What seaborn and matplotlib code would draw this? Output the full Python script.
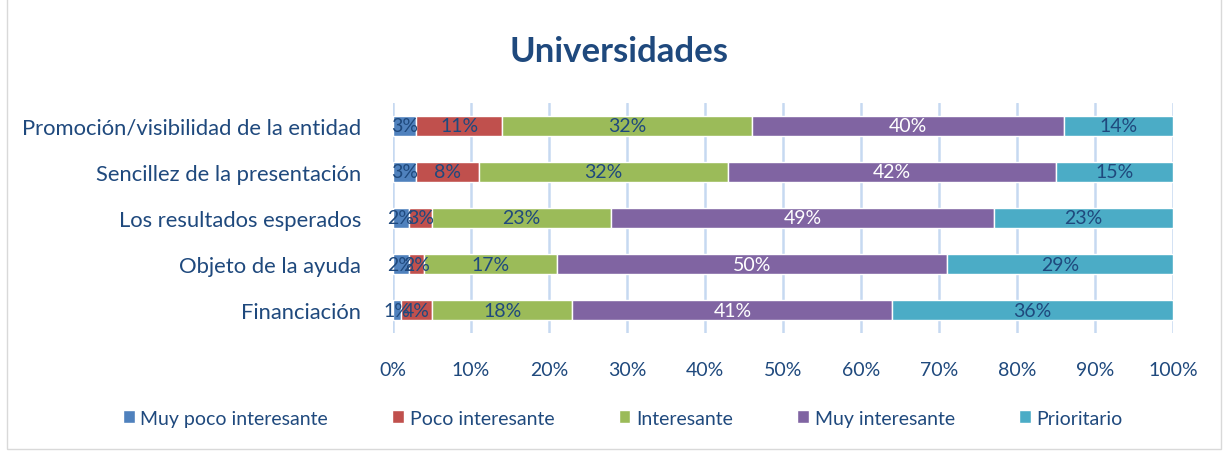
import numpy as np
import pandas as pd
import seaborn as sns
import matplotlib.pyplot as plt
from matplotlib.patches import Rectangle

categories = ["Promoción/visibilidad de la entidad", "Sencillez de la presentación",
              "Los resultados esperados", "Objeto de la ayuda", "Financiación"]
levels = ["Muy poco interesante", "Poco interesante", "Interesante",
          "Muy interesante", "Prioritario"]
muy_poco = [3, 3, 2, 2, 1]
poco = [11, 8, 3, 2, 4]
interesante = [32, 32, 23, 17, 18]
muy_interesante = [40, 42, 49, 50, 41]
prioritario = [14, 15, 23, 29, 36]

colors = ["#4F81BD", "#C0504D", "#9BBB59", "#8064A2", "#4BACC6"]
label_colors = ["#1F497D", "#1F497D", "#1F497D", "white", "#1F497D"]
text_color = "#1F497D"

sns.set_theme(style="white")
plt.rcParams["font.family"] = ["Lato", "DejaVu Sans"]

data = pd.DataFrame({"categoria": categories, levels[0]: muy_poco, levels[1]: poco,
                     levels[2]: interesante, levels[3]: muy_interesante, levels[4]: prioritario})

fig = plt.figure(figsize=(12.26, 4.52), dpi=100)
ax = fig.add_axes([0.3206, 0.261, 0.6362, 0.509])

# stacked bars: each level starts where the previous ones end
left = np.zeros(len(categories))
for lvl, col, lcol in zip(levels, colors, label_colors):
    sns.barplot(data=data, x=lvl, y="categoria", color=col, left=left,
                width=0.43, ax=ax, label=lvl, saturation=1)
    cont = ax.containers[-1]
    ax.bar_label(cont, labels=[f"{v:.0f}%" for v in data[lvl]], label_type="center",
                 color=lcol, fontsize=14)
    left = left + data[lvl].values

if ax.get_legend() is not None:
    ax.get_legend().remove()

ax.set_xlim(0, 100)
ax.set_ylim(4.5, -0.5)
ax.set_xticks(range(0, 101, 10))
ax.set_xticklabels([f"{t}%" for t in range(0, 101, 10)])
ax.set_xlabel("")
ax.set_ylabel("")
ax.tick_params(axis="both", labelsize=14, colors=text_color, length=0)
ax.tick_params(axis="y", pad=23, labelsize=15.8)
ax.tick_params(axis="x", pad=20)
ax.xaxis.grid(True, color="#C6D9F1", linewidth=1.8)
ax.set_axisbelow(True)
for s in ax.spines.values():
    s.set_visible(False)

fig.suptitle("Universidades", x=0.505, y=0.92, fontsize=25, fontweight="bold", color=text_color)

handles, labs = ax.get_legend_handles_labels()
fig.legend(handles, labs, loc="center", bbox_to_anchor=(0.508, 0.073), ncol=5,
           frameon=False, fontsize=14, labelcolor=text_color, handlelength=0.6,
           handleheight=0.6, handletextpad=0.3, columnspacing=3.3)

fig.patches.append(Rectangle((0.006, 0.004), 0.99, 1.2, transform=fig.transFigure,
                             fill=False, edgecolor="#D9D9D9", linewidth=1))

fig.savefig("out.png", dpi=100)
